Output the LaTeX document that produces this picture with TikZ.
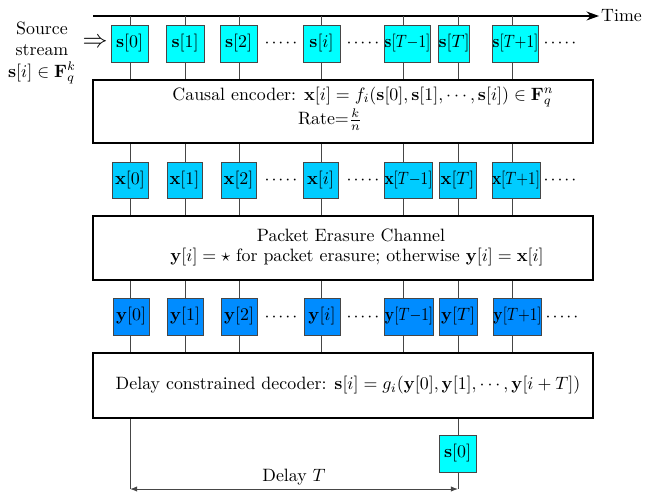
\documentclass[tikz,border=0pt]{standalone}
\usetikzlibrary{arrows.meta}
\definecolor{scol}{RGB}{0,255,255}
\definecolor{xcol}{RGB}{0,204,255}
\definecolor{ycol}{RGB}{0,140,255}
\definecolor{edgecol}{RGB}{70,70,70}
\def\pxu{0.56pt}
\newcommand\fivedots{$\mathord{\cdot}\mkern2mu\mathord{\cdot}\mkern2mu\mathord{\cdot}\mkern2mu\mathord{\cdot}\mkern2mu\mathord{\cdot}$}
\newcommand\sqz[1]{\scalebox{0.85}[1]{#1}}
\begin{document}
\begin{tikzpicture}[x=0.56pt,y=-0.56pt,
  cell/.style={draw=edgecol, line width=0.5pt, inner sep=0pt, minimum height=37*\pxu},
  bigbox/.style={draw=black, line width=1pt, minimum width=500*\pxu, inner sep=0pt},
  wire/.style={draw=edgecol, line width=0.55pt},
  dotsnode/.style={anchor=base, inner sep=0pt}]
\useasboundingbox (0,0) rectangle (647,491);

% big boxes
\node[bigbox, minimum height=63*\pxu] (enc) at (343,111.5) {};
\node[bigbox, minimum height=64*\pxu] (chan) at (343,248) {};
\node[bigbox, minimum height=65*\pxu] (dec) at (343,385.5) {};

% time axis
\coordinate (tstart) at (93,16);
\node[anchor=west, inner sep=1pt] (time) at (599,16) {Time};
\draw[line width=0.8pt, -{Stealth[length=7pt,width=5pt]}] (tstart) -- (time.west);

% columns
\foreach \n/\x in {0/130,1/185,2/239,3/321,4/403,5/458,6/512}{
  \coordinate (c\n) at (\x,16);
  \draw[wire] (c\n) -- (c\n |- enc.north);
  \draw[wire] (c\n |- enc.south) -- (c\n |- chan.north);
  \draw[wire] (c\n |- chan.south) -- (c\n |- dec.north);
}

% source row
\node[cell, fill=scol, minimum width=37*\pxu] (s0) at (129.5,43.5) {$\mathbf{s}[0]$};
\node[cell, fill=scol, minimum width=38*\pxu] (s1) at (185,43.5) {$\mathbf{s}[1]$};
\node[cell, fill=scol, minimum width=37*\pxu] (s2) at (238.5,43.5) {$\mathbf{s}[2]$};
\node[cell, fill=scol, minimum width=37*\pxu] (si) at (321.5,43.5) {$\mathbf{s}[i]$};
\node[cell, fill=scol, minimum width=43*\pxu] (sTm) at (407.5,43.5) {\sqz{$\mathbf{s}[T{-}1]$}};
\node[cell, fill=scol, minimum width=30*\pxu] (sT) at (454,43.5) {$\mathbf{s}[T]$};
\node[cell, fill=scol, minimum width=45*\pxu] (sTp) at (515.5,43.5) {\sqz{$\mathbf{s}[T{+}1]$}};
\node[dotsnode] (sd1) at (281,48) {\fivedots};
\node[dotsnode] (sd2) at (363,48) {\fivedots};
\node[dotsnode] (sd3) at (560,48) {\fivedots};

% encoded row
\node[cell, fill=xcol, minimum width=36*\pxu, minimum height=36*\pxu] (x0) at (130,180) {$\mathbf{x}[0]$};
\node[cell, fill=xcol, minimum width=35*\pxu, minimum height=36*\pxu] (x1) at (184.5,180) {$\mathbf{x}[1]$};
\node[cell, fill=xcol, minimum width=35*\pxu, minimum height=36*\pxu] (x2) at (238.5,180) {$\mathbf{x}[2]$};
\node[cell, fill=xcol, minimum width=35*\pxu, minimum height=36*\pxu] (xi) at (320.5,180) {$\mathbf{x}[i]$};
\node[cell, fill=xcol, minimum width=45*\pxu, minimum height=36*\pxu] (xTm) at (408.5,180) {\sqz{$\mathbf{x}[T{-}1]$}};
\node[cell, fill=xcol, minimum width=37*\pxu, minimum height=36*\pxu] (xT) at (457.5,180) {$\mathbf{x}[T]$};
\node[cell, fill=xcol, minimum width=46*\pxu, minimum height=36*\pxu] (xTp) at (516,180) {\sqz{$\mathbf{x}[T{+}1]$}};
\node[dotsnode] (xd1) at (281,184.5) {\fivedots};
\node[dotsnode] (xd2) at (363,184.5) {\fivedots};
\node[dotsnode] (xd3) at (560,184.5) {\fivedots};

% received row
\node[cell, fill=ycol, minimum width=36*\pxu] (y0) at (131,316.5) {$\mathbf{y}[0]$};
\node[cell, fill=ycol, minimum width=36*\pxu] (y1) at (185,316.5) {$\mathbf{y}[1]$};
\node[cell, fill=ycol, minimum width=36*\pxu] (y2) at (239,316.5) {$\mathbf{y}[2]$};
\node[cell, fill=ycol, minimum width=36*\pxu] (yi) at (322,316.5) {$\mathbf{y}[i]$};
\node[cell, fill=ycol, minimum width=44*\pxu] (yTm) at (409,316.5) {\sqz{$\mathbf{y}[T{-}1]$}};
\node[cell, fill=ycol, minimum width=38*\pxu] (yT) at (458,316.5) {$\mathbf{y}[T]$};
\node[cell, fill=ycol, minimum width=47*\pxu] (yTp) at (517.5,316.5) {\sqz{$\mathbf{y}[T{+}1]$}};
\node[dotsnode] (yd1) at (281,321) {\fivedots};
\node[dotsnode] (yd2) at (363,321) {\fivedots};
\node[dotsnode] (yd3) at (562,321) {\fivedots};

% texts in big boxes
\node (enctxt) at (363,97) {Causal encoder: $\mathbf{x}[i]=f_i(\mathbf{s}[0],\mathbf{s}[1],\cdots,\mathbf{s}[i])\in\mathbf{F}_q^n$};
\node (rate) at (330,120) {Rate${=}\frac{k}{n}$};
\node (chtxt) at (351,235) {Packet Erasure Channel};
\node (chtxt2) at (357,257) {$\mathbf{y}[i]=\star$ for packet erasure; otherwise $\mathbf{y}[i]=\mathbf{x}[i]$};
\node (dectxt) at (348,385) {Delay constrained decoder: $\mathbf{s}[i]=g_i(\mathbf{y}[0],\mathbf{y}[1],\cdots,\mathbf{y}[i+T])$};

% source label and input arrow
\node[align=center, inner sep=0pt] (src) at (42,53) {Source\\stream\\$\mathbf{s}[i]\in\mathbf{F}_q^k$};
\node[inner sep=0pt] (inarr) at (95,43) {\scalebox{1.4}{$\Rightarrow$}};

% output and delay
\node[cell, fill=scol, minimum width=37*\pxu] (sout) at (457.5,453.5) {$\mathbf{s}[0]$};
\coordinate (dl) at (130,489);
\coordinate (dr) at (458,489);
\draw[wire] (c5 |- dec.south) -- (c5 |- sout.north);
\draw[wire] (c5 |- sout.south) -- (dr);
\draw[wire] (c0 |- dec.south) -- (dl);
\draw[wire, {Latex[length=4pt,width=3pt]}-{Latex[length=4pt,width=3pt]}] (dl) -- (dr) node[midway, above, inner sep=2pt] (delay) {Delay $T$};
\end{tikzpicture}
\end{document}
